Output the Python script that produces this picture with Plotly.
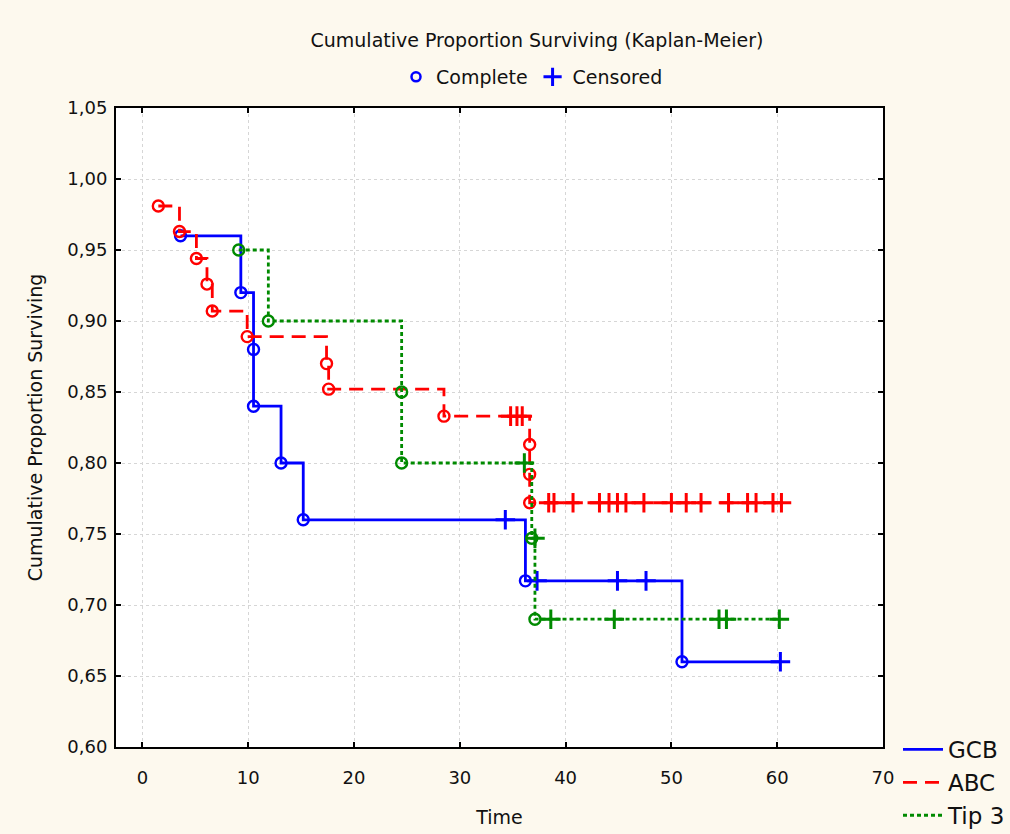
import plotly.graph_objects as go

# ---------------- data ----------------
# status: 0 = complete (event), 1 = censored
gcb_time = [3.6, 9.3, 10.5, 10.5, 13.1, 15.2, 34.3, 36.2, 37.3, 44.9, 47.6, 51.0, 60.3]
gcb_surv = [0.960, 0.920, 0.880, 0.840, 0.800, 0.760, 0.760, 0.717, 0.717, 0.717, 0.717, 0.660, 0.660]
gcb_cens = [0, 0, 0, 0, 0, 0, 1, 0, 1, 1, 1, 0, 1]

abc_time = [1.5, 3.5, 5.1, 6.1, 6.6, 9.9, 17.4, 17.6, 28.5, 34.8, 35.4, 35.9,
            36.6, 36.6, 36.6, 38.4, 38.9, 40.7, 43.2, 44.1, 44.9, 45.7, 47.4,
            50.0, 51.4, 52.8, 55.4, 57.2, 58.0, 59.6, 60.4]
abc_surv = [0.981, 0.963, 0.944, 0.926, 0.907, 0.889, 0.870, 0.852, 0.833, 0.833, 0.833, 0.833,
            0.813, 0.792, 0.772, 0.772, 0.772, 0.772, 0.772, 0.772, 0.772, 0.772, 0.772,
            0.772, 0.772, 0.772, 0.772, 0.772, 0.772, 0.772, 0.772]
abc_cens = [0, 0, 0, 0, 0, 0, 0, 0, 0, 1, 1, 1,
            0, 0, 0, 1, 1, 1, 1, 1, 1, 1, 1,
            1, 1, 1, 1, 1, 1, 1, 1]

tip_time = [9.1, 11.9, 24.5, 24.5, 36.1, 36.8, 37.1, 37.1, 38.6, 44.6, 54.5, 55.2, 60.2]
tip_surv = [0.950, 0.900, 0.850, 0.800, 0.800, 0.747, 0.747, 0.690, 0.690, 0.690, 0.690, 0.690, 0.690]
tip_cens = [0, 0, 0, 0, 1, 0, 1, 0, 1, 1, 1, 1, 1]

series_names = ["GCB", "ABC", "Tip 3"]
series_colors = ["#0000ff", "#ff0000", "#008a00"]
series_dash = ["solid", "14px,8px", "4px,3px"]

title_text = "Cumulative Proportion Surviving (Kaplan-Meier)"
x_title = "Time"
y_title = "Cumulative Proportion Surviving"
x_ticks = [0, 10, 20, 30, 40, 50, 60, 70]
y_ticks = [0.60, 0.65, 0.70, 0.75, 0.80, 0.85, 0.90, 0.95, 1.00, 1.05]

FONT = "DejaVu Sans"
PAPER = "#fdf9ee"

fig = go.Figure()

data = [
    (gcb_time, gcb_surv, gcb_cens),
    (abc_time, abc_surv, abc_cens),
    (tip_time, tip_surv, tip_cens),
]

for (t, s, c), name, col, dash in zip(data, series_names, series_colors, series_dash):
    fig.add_trace(go.Scatter(
        x=t, y=s, mode="lines", name=name, legend="legend2",
        line=dict(color=col, width=2.8, dash=dash, shape="hv"),
    ))
    ev_x = [ti for ti, ci in zip(t, c) if ci == 0]
    ev_y = [si for si, ci in zip(s, c) if ci == 0]
    ce_x = [ti for ti, ci in zip(t, c) if ci == 1]
    ce_y = [si for si, ci in zip(s, c) if ci == 1]
    fig.add_trace(go.Scatter(
        x=ev_x, y=ev_y, mode="markers", showlegend=False,
        marker=dict(symbol="circle-open", size=11, color=col, line=dict(width=2.4, color=col)),
    ))
    fig.add_trace(go.Scatter(
        x=ce_x, y=ce_y, mode="markers", showlegend=False,
        marker=dict(symbol="cross-thin-open", size=14, color=col, line=dict(width=3, color=col)),
    ))

# top legend dummies
fig.add_trace(go.Scatter(
    x=[None], y=[None], mode="markers", name="Complete", legend="legend",
    marker=dict(symbol="circle-open", size=9, color="#0000ff", line=dict(width=2.5, color="#0000ff")),
))
fig.add_trace(go.Scatter(
    x=[None], y=[None], mode="markers", name="Censored", legend="legend",
    marker=dict(symbol="cross-thin-open", size=13, color="#0000ff", line=dict(width=3, color="#0000ff")),
))

axis_common = dict(
    showline=True, linecolor="black", linewidth=2, mirror="ticks",
    ticks="inside", ticklen=5, tickwidth=2, tickcolor="black",
    showgrid=True, gridcolor="#d6d6d6", gridwidth=1, griddash="dot",
    zeroline=False, tickfont=dict(family=FONT, size=18, color="#111"),
)

fig.update_layout(
    width=1010, height=834,
    paper_bgcolor=PAPER, plot_bgcolor="white",
    margin=dict(l=116, r=127, t=108, b=87, autoexpand=False),
    separators=", ",
    font=dict(family=FONT, size=18, color="#111"),
    title=dict(text=title_text, x=537/1010, xanchor="center", xref="container",
               y=1 - 40/834, yanchor="middle", yref="container",
               font=dict(family=FONT, size=19, color="#111")),
    xaxis=dict(range=[-2.5, 70], tickvals=x_ticks, ticklabelstandoff=13,
               title=dict(text=x_title, standoff=24, font=dict(family=FONT, size=19)),
               **axis_common),
    yaxis=dict(range=[0.60, 1.05], tickvals=y_ticks, tickformat=".2f", ticklabelstandoff=3,
               title=dict(text=y_title, standoff=20, font=dict(family=FONT, size=19)),
               **axis_common),
    legend=dict(orientation="h", xref="container", yref="container",
                x=532/1010, xanchor="center", y=1 - 77/834, yanchor="middle",
                bgcolor="rgba(0,0,0,0)", font=dict(family=FONT, size=19, color="#111"),
                itemwidth=30),
    legend2=dict(orientation="v", xref="container", yref="container",
                 x=898/1010, xanchor="left", y=1 - 728/834, yanchor="top",
                 bgcolor=PAPER, font=dict(family=FONT, size=23, color="#111"),
                 itemwidth=40, tracegroupgap=0),
    showlegend=True,
)

fig.write_html(
    "out.html",
    config={"displayModeBar": False},
    post_script="document.body.style.margin='0px';document.body.style.overflow='hidden';",
)
